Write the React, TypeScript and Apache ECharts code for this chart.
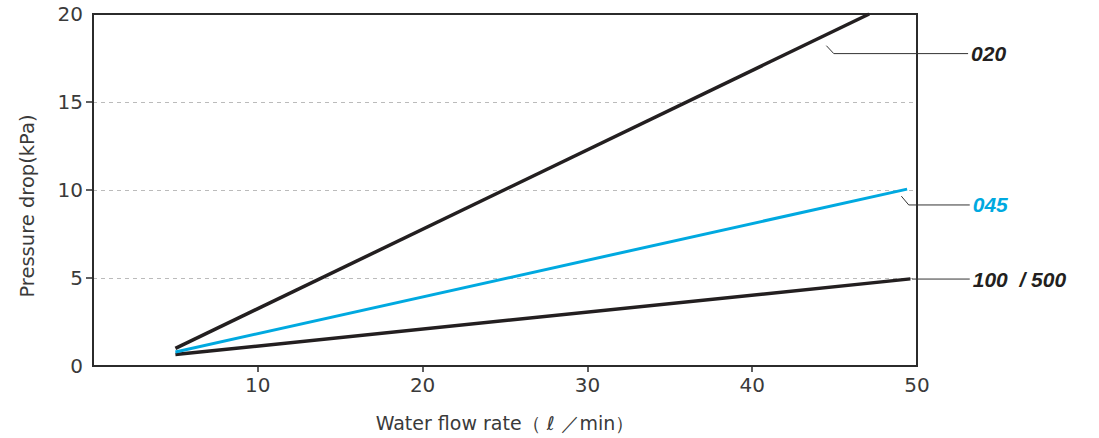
import React, { useEffect, useRef } from "react";
import * as echarts from "echarts";

const xTickLabels = [10, 20, 30, 40, 50];
const yTickLabels = [0, 5, 10, 15, 20];
const seriesNames = ["020", "045", "100 / 500"];
const flow020 = [5, 47.1];
const drop020 = [1.0, 20];
const flow045 = [5, 49.4];
const drop045 = [0.8, 10.05];
const flow100 = [5, 49.6];
const drop100 = [0.65, 4.95];
const seriesColors = ["#231f20", "#00a9e0", "#231f20"];
// leader lines for the series labels (data units)
const leaders = [
  [[44.5, 18.2], [44.95, 17.75], [53.1, 17.75]],
  [[49.05, 9.65], [49.5, 9.15], [53.2, 9.15]],
  [[49.7, 4.94], [53.2, 4.94]],
];

const pair = (xs: number[], ys: number[]) => xs.map((x, i) => [x, ys[i]]);

export default function App() {
  const ref = useRef<HTMLDivElement>(null);
  useEffect(() => {
    document.body.style.margin = "0";
    const chart = echarts.init(ref.current!, undefined, { renderer: "svg" });
    const textColor = "#3a3a3a";
    const font = "'DejaVu Sans', sans-serif";
    const datasets = [pair(flow020, drop020), pair(flow045, drop045), pair(flow100, drop100)];
    chart.setOption({
      animation: false,
      grid: {
        left: 93,
        right: 182,
        top: 14,
        bottom: 72,
        show: true,
        borderColor: "#2b2b2b",
        borderWidth: 2,
      },
      xAxis: {
        type: "value",
        min: 0,
        max: 50,
        interval: 10,
        name: "Water flow rate（ ℓ ／min）",
        nameLocation: "middle",
        nameGap: 47,
        nameTextStyle: { color: textColor, fontSize: 19, fontFamily: font },
        axisLine: { show: true, onZero: false, lineStyle: { color: "#2b2b2b", width: 2 } },
        axisTick: { show: true, length: 6, customValues: [10, 20, 30, 40], lineStyle: { color: "#2b2b2b", width: 1.5 } },
        axisLabel: { customValues: xTickLabels, color: textColor, fontSize: 20, fontFamily: font, margin: 9 },
        splitLine: { show: false },
      },
      yAxis: {
        type: "value",
        min: 0,
        max: 20,
        interval: 5,
        name: "Pressure drop(kPa)",
        nameLocation: "middle",
        nameGap: 56,
        nameTextStyle: { color: textColor, fontSize: 19.5, fontFamily: font, padding: [0, 0, 0, -32] },
        axisLine: { show: true, lineStyle: { color: "#2b2b2b", width: 2 } },
        axisTick: { show: true, length: 7, customValues: [5, 10, 15], lineStyle: { color: "#2b2b2b", width: 1.5 } },
        axisLabel: { customValues: yTickLabels, color: textColor, fontSize: 20, fontFamily: font, margin: 10 },
        splitLine: { show: true, lineStyle: { color: "#bbbbbb", type: [4, 4], width: 1 } },
      },
      series: datasets.map((d, i) => ({
        type: "line",
        name: seriesNames[i],
        data: d,
        symbol: "none",
        z: i === 1 ? 3 : 2,
        lineStyle: { color: seriesColors[i], width: i === 1 ? 3 : 3.5 },
      })),
    });
    const toPx = (p: number[]) => chart.convertToPixel({ gridIndex: 0 }, p) as number[];
    const graphics: any[] = [];
    leaders.forEach((pts, i) => {
      const px = pts.map(toPx);
      graphics.push({
        type: "polyline",
        shape: { points: px },
        style: { stroke: "#333", lineWidth: 1, fill: null },
        z: 10,
      });
      const last = px[px.length - 1];
      graphics.push({
        type: "text",
        x: last[0] + 3,
        y: last[1],
        style: {
          text: i === 2 ? "100  / 500" : seriesNames[i],
          fill: i === 1 ? "#00a9e0" : "#231f20",
          font: "italic bold 21px 'Liberation Sans', Arial, sans-serif",
          textVerticalAlign: "middle",
          verticalAlign: "middle",
        },
        z: 10,
      });
    });
    chart.setOption({ graphic: graphics });
    return () => chart.dispose();
  }, []);
  return <div ref={ref} style={{ width: 1099, height: 438 }} />;
}
